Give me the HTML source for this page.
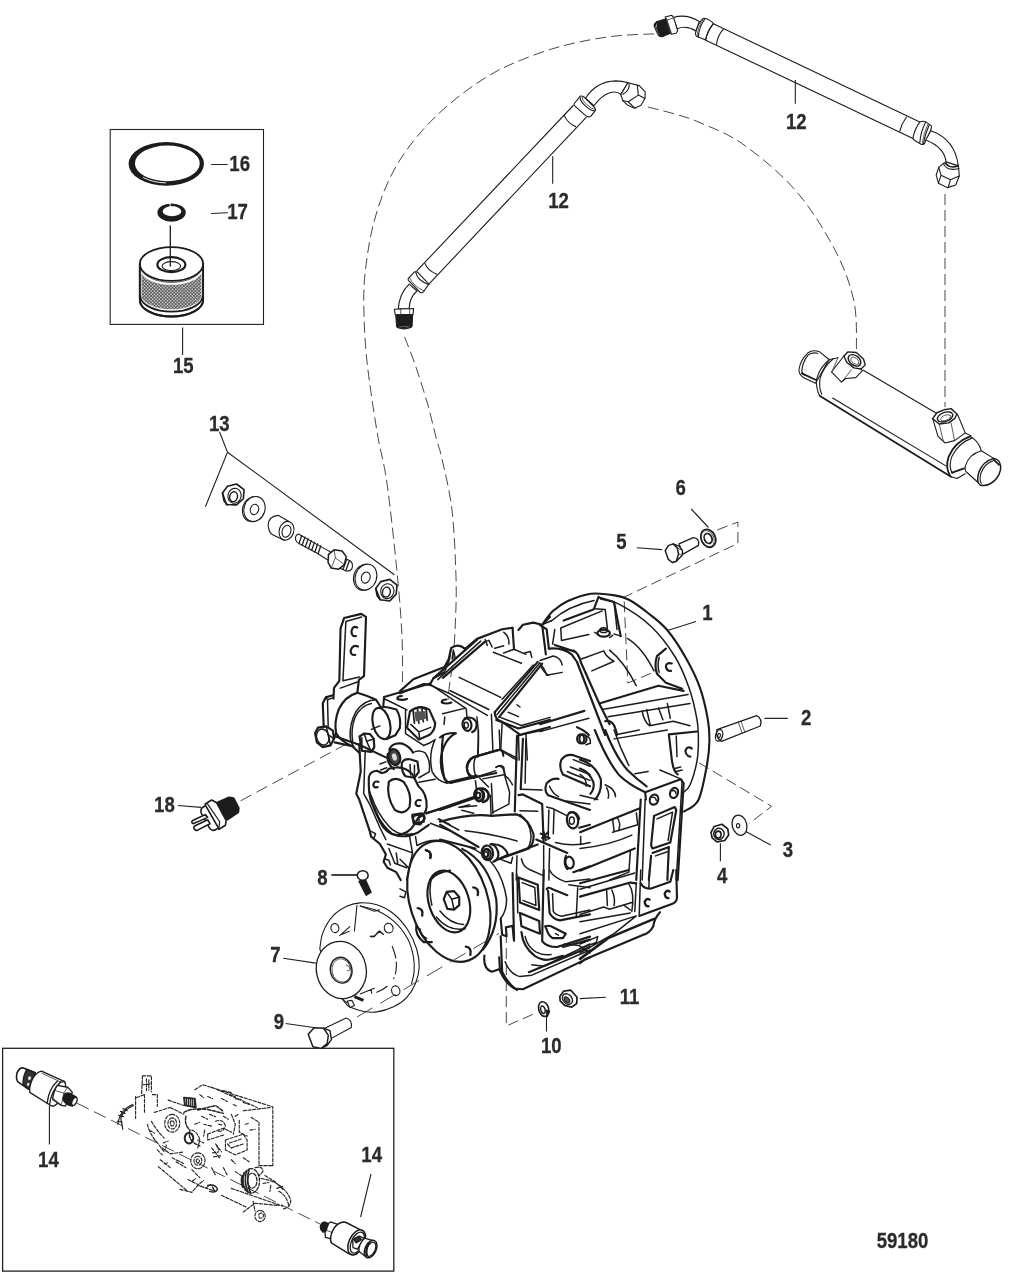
<!DOCTYPE html>
<html>
<head>
<meta charset="utf-8">
<title>59180</title>
<style>
html,body{margin:0;padding:0;background:#fff;}
body{width:1013px;height:1275px;overflow:hidden;}
svg{display:block;}
.l{fill:none;stroke:#1c1c1c;stroke-width:1.1;stroke-linecap:round;stroke-linejoin:round;}
.l *{vector-effect:non-scaling-stroke;}
.t{stroke-width:1.8;}
.h{stroke-width:0.8;stroke:#333;}
.gb{stroke-width:1.5;}
.gb .t{stroke-width:2.15;}
.d{stroke-dasharray:11 5;stroke-width:0.9;stroke:#333;fill:none;}
.w{fill:#fff;}
.k{fill:#1c1c1c;}
.ld{stroke:#222;stroke-width:1.1;fill:none;}
text{font-family:"Liberation Sans",sans-serif;font-weight:bold;font-size:22px;fill:#2b2b2b;stroke:#2b2b2b;stroke-width:0.3px;}
</style>
</head>
<body>
<svg width="1013" height="1275" viewBox="0 0 1013 1275">
<rect width="1013" height="1275" fill="#fff"/>

<!-- ========== dashed assembly lines ========== -->
<g class="d" id="dash">
<path d="M654.1 33.9C648.3 34.2 631.0 34.5 619.5 35.6C608.0 36.8 596.5 38.5 585.0 40.8C573.5 43.1 561.9 45.8 550.4 49.4C538.9 53.0 526.3 57.8 515.9 62.2C505.5 66.6 497.4 70.5 488.2 76.0C479.0 81.5 469.2 88.4 460.6 95.0C452.0 101.6 443.9 108.6 436.4 115.8C428.9 123.0 422.0 130.4 415.7 138.2C409.4 146.0 403.6 153.8 398.4 162.4C393.2 171.0 388.6 180.2 384.6 190.0C380.6 199.8 377.1 210.2 374.2 221.1C371.3 232.0 369.0 243.6 367.3 255.7C365.6 267.8 364.1 278.7 363.8 293.7C363.5 308.7 364.4 329.4 365.5 345.5C366.6 361.6 368.6 374.9 370.7 390.5C372.8 406.1 375.6 423.4 378.3 438.8C381.0 454.2 383.8 460.9 386.9 482.7C390.0 504.5 394.3 544.0 396.8 569.5C399.3 595.0 401.1 616.6 402.0 636.0C402.9 655.4 402.4 677.7 402.5 686.0"/>
<path d="M404.6 336.9C406.5 341.8 411.9 355.1 415.7 366.3C419.5 377.5 424.2 392.2 427.7 404.3C431.1 416.4 434.0 429.7 436.4 438.8C438.8 447.9 439.4 447.1 442.0 459.0C444.6 470.9 449.7 490.3 452.0 510.0C454.3 529.7 455.4 558.7 456.0 577.0C456.6 595.3 456.0 606.2 455.5 620.0C455.0 633.8 454.0 649.2 453.0 660.0C452.0 670.8 450.3 678.3 449.5 685.0C448.7 691.7 448.2 697.5 448.0 700.0"/>
<path d="M647.9 107.1C652.4 108.2 666.1 111.4 674.8 114.0C683.5 116.6 688.7 117.7 700.0 122.7C711.3 127.7 726.9 132.8 742.7 144.0C758.5 155.2 779.7 172.4 795.0 189.8C810.3 207.2 824.5 230.2 834.3 248.7C844.1 267.2 850.2 283.8 853.9 301.0C857.6 318.2 856.1 343.5 856.5 352.0"/>
<path d="M945 194V407"/>
<path d="M717.3 529.9L737.9 522.1V543.4L618 600"/>
<path d="M624.2 601.3L627.8 683L656.2 671.2"/>
<path d="M699 762.8L771.6 806.3L749.4 823.4"/>
<path d="M506.3 932V1026L535.3 1013.3"/>
<path d="M240.7 800.8L350 742" style="stroke-dasharray:12 6"/>
<path d="M77 1103.2L320.6 1224.3" style="stroke-dasharray:13 6"/>
</g>

<!-- ========== boxes ========== -->
<g class="ld">
<rect x="110.2" y="129.5" width="153.3" height="194.9"/>
<rect x="2.6" y="1048.3" width="391.2" height="222.8" stroke-width="1.3"/>
</g>

<!-- ========== leader lines ========== -->
<g class="ld" id="leaders">
<path d="M331.4 875H358" style="stroke-width:1.7"/>
<path d="M211.2 164.5H227.7M211.2 213.5L227.7 212.8M182.6 327.5V355M552.7 156.2V183.8M795.3 80V103.8"/>
<path d="M219.5 431.8L227.5 452.2L205.4 506.7M227.5 452.2L394.4 574.8"/>
<path d="M691.2 509L708.5 527.5M636.7 547.7L662.1 549.6M696 621.6L667.5 630.6M764.4 718.4H787.7M745.8 831.5L770.7 845M720.4 843.2V861.3"/>
<path d="M177.9 805.5L201.1 807.4M283.3 958.3L315.8 963.1M285.7 1023.5L315.3 1027.8M579.7 998.6L605.8 997.3M546.5 1014.2V1031.4M49.4 1105.2V1144.6M371 1174L360.6 1217"/>
</g>


<!-- ========== kit 15: o-ring 16, lock washer 17, filter element ========== -->
<defs>
<pattern id="mesh" width="11" height="11" patternUnits="userSpaceOnUse" patternTransform="rotate(45)">
<rect width="11" height="11" fill="#333"/><rect x="1" y="1" width="7.4" height="7.4" fill="#f2f2f2"/>
</pattern>
</defs>
<g class="l" transform="translate(100,120) scale(0.21176)">
<path class="k" style="stroke:none" fill-rule="evenodd" d="M135 207a178 103 0 1 0 356 0a178 103 0 1 0 -356 0ZM165 205a153 84 0 1 0 306 0a153 84 0 1 0 -306 0Z"/>
<path d="M205 272Q250 296 310 297" style="stroke:#fff;stroke-width:0.9"/>
<path class="k" style="stroke:none" fill-rule="evenodd" d="M271 437a67 43 0 1 0 134 0a67 43 0 1 0 -134 0ZM296 431a44 24 0 1 0 88 0a44 24 0 1 0 -88 0Z"/>
<path d="M330 392L334 425L350 408" style="stroke:#fff;stroke-width:1"/>
<!-- filter body -->
<path class="w t" d="M188 680V850A149.5 78 0 0 0 487 850V680A149.5 80 0 0 0 188 680Z"/>
<path fill="url(#mesh)" stroke="none" d="M196 722A145 72 0 0 0 479 722V838A145 72 0 0 1 196 838Z"/>
<path class="t" d="M188 680A149.5 80 0 0 0 487 680"/>
<path d="M192 700A147 78 0 0 0 483 700" class="h"/>
<path class="t" d="M190 835A148 76 0 0 0 485 835"/>
<path class="t" d="M188 680V850A149.5 78 0 0 0 487 850V680"/>
<ellipse cx="337" cy="683" rx="66" ry="35" class="w t" style="stroke-width:2.2"/>
<ellipse cx="337" cy="690" rx="44" ry="21" class="w"/>
<path d="M332 500V690" style="stroke-width:1.3"/>
</g>


<!-- ========== hose 12 (lower / left) ========== -->
<g class="l">
<path d="M417 270.7L573.2 105.5M428.9 284.1L586.2 117.4"/>
</g>
<g class="l" transform="translate(540,70) scale(0.11846)">
<path d="M205 385Q235 450 300 478"/>
<path class="w" d="M288 285L338 222Q352 214 372 228L462 318Q474 335 462 350L428 392Q405 402 385 385L295 305Q284 295 288 285Z"/>
<path d="M340 235Q338 265 385 305Q425 342 458 345"/>
<path d="M355 228Q352 255 395 293Q432 328 462 332" class="h"/>
<path class="w" d="M385 238C440 150 520 95 640 92C680 93 715 100 742 108L682 208C660 185 625 182 590 192C535 210 490 255 455 302Z"/>
<path class="w" d="M742 108L838 132L888 185L886 240L852 298L800 322L742 298L698 258L682 208Z"/>
<path d="M752 112Q765 165 700 205"/>
<path d="M822 132L830 212L886 240M830 212L745 268L698 258M745 268L800 322"/>
</g>
<g class="l" transform="translate(380,250) scale(0.09872)">
<path d="M455 135Q480 205 575 245"/>
<path class="w" d="M285 290L350 222Q365 213 380 225L495 345L435 430Q420 436 405 428L295 315Q283 302 285 290Z"/>
<path d="M362 225Q378 310 492 350"/>
<path d="M300 280Q335 365 445 415" class="h"/>
<path class="w" d="M295 345Q195 440 185 598L295 592Q298 480 375 415Z"/>
<path class="w" d="M145 600L340 592L335 652L155 657Z"/>
<path d="M210 598V655M300 595V652" class="h"/>
<path class="k" d="M160 662L330 657L325 770L168 772Z"/>
<path class="w" d="M170 772Q245 802 322 770L318 782Q245 815 175 785Z"/>
</g>


<!-- ========== hose 12 (upper / right) ========== -->
<g class="l">
<path d="M713.9 24.1L919.8 121.9M706.3 40.5L913.5 138.8"/>
</g>
<g class="l" transform="translate(645,5) scale(0.08884)">
<path d="M880 275Q820 340 805 440"/>
<path class="w" d="M655 150Q700 145 772 207Q705 290 682 395L580 352Q560 335 575 290Q600 200 655 150Z"/>
<path d="M678 152Q605 250 600 362"/>
<path d="M662 151Q590 250 586 356" class="h"/>
<path d="M772 207Q700 290 682 395"/>
<path class="w" d="M318 140Q460 95 612 185L572 292Q470 225 362 268Z"/>
<path class="w" d="M228 135L300 115L322 142L368 290L350 318L295 330Z"/>
<path d="M248 168L318 148M248 168L228 135M248 168L300 325" class="h"/>
<path class="k" d="M130 190L228 158L280 322L200 355L155 340Z"/>
<path class="w" d="M130 190Q95 215 105 245L150 340Q175 360 200 355Q165 345 158 325L118 235Q112 205 130 190Z"/>
</g>
<g class="l" transform="translate(890,105) scale(0.08884)">
<path d="M185 135Q130 210 110 295"/>
<path class="w" d="M340 188Q375 178 402 190L465 232Q472 250 455 292L390 432Q375 452 350 442L270 395Q254 380 262 350Q290 250 340 188Z"/>
<path d="M402 192Q345 300 335 425"/>
<path d="M442 222Q395 320 375 442"/>
<path d="M428 212Q380 315 362 436" class="h"/>
<path class="w" d="M460 290C600 340 740 440 768 685L632 640C615 520 520 440 402 395Z"/>
<path class="w" d="M548 702L612 648Q680 730 770 675L780 800L740 900L645 930L545 880L520 790Z"/>
<path d="M625 640Q660 720 768 688M600 660Q640 750 775 715"/>
<path d="M548 702L575 790L680 842L778 800M575 790L545 880M680 842L655 928"/>
</g>


<!-- ========== oil cooler ========== -->
<g class="l">
<path d="M863.4 370.2L935.6 412.8"/>
<path d="M819.6 395.7L951 476.7" class="t"/>
<path d="M832.6 398L946.3 466.1"/>
</g>
<g class="l" transform="translate(790,340) scale(0.11846)">
<path class="w" d="M250 100Q190 78 150 110Q85 170 75 255Q80 300 120 320L215 365L330 165Z"/>
<path d="M235 112Q180 100 150 130Q105 190 100 260Q105 290 130 300"/>
<path d="M100 282L220 338" class="t"/>
<path d="M335 165Q250 230 225 330Q215 400 250 470"/>
<path d="M365 158Q280 230 255 320Q240 400 268 458"/>
<path d="M335 165L405 150"/>
<path class="w" d="M455 135L350 270L435 355L470 325L555 318L612 258Z"/>
<path d="M405 150L355 265" class="h"/>
<path d="M435 355L520 250" class="h"/>
<path class="w" d="M455 135L490 100L560 105L620 160L635 210L600 245L540 235L480 190Z" style="stroke-width:1.4"/>
<ellipse cx="545" cy="172" rx="60" ry="40" transform="rotate(38 545 172)" style="stroke-width:1.4"/>
<ellipse cx="548" cy="176" rx="40" ry="24" transform="rotate(38 548 176)" class="h"/>
</g>
<g class="l" transform="translate(893,395) scale(0.11846)">
<path d="M650 350Q520 400 470 520Q440 610 480 680" class="t"/>
<path d="M668 362Q548 410 497 520Q466 600 500 660"/>
<path d="M650 350Q720 380 745 470"/>
<path d="M500 655L600 620" class="t"/><path d="M490 690L540 705L610 665"/>
<path class="w" d="M745 470Q640 500 610 600Q605 640 620 650L725 745L850 535Z"/>
<path class="w" d="M850 535Q760 560 725 650Q700 730 735 760Q800 780 870 710Q930 630 900 570Q885 540 850 535Z" style="stroke-width:1.5"/>
<path d="M842 556Q772 580 742 660Q726 720 746 745"/>
<path d="M850 545L895 590" class="t"/>
<path class="w" d="M335 200L380 350L440 405L520 385L610 320L545 165Z"/>
<path d="M390 245L425 390M490 235L520 385" class="h"/>
<path d="M610 320L660 345" />
<path class="w" d="M335 200L370 150L430 125L490 115L540 160L520 200L470 235L390 245Z" style="stroke-width:1.4"/>
<ellipse cx="440" cy="185" rx="68" ry="38" transform="rotate(-20 440 185)" style="stroke-width:1.4"/>
<ellipse cx="445" cy="192" rx="45" ry="22" transform="rotate(-20 445 192)" class="h"/>
</g>


<!-- ========== bracket hardware 13 ========== -->
<g class="l" transform="translate(190,400) scale(0.22706)">
<path class="w" d="M143 410L165 380L205 370L238 395L235 435L205 462L160 460Z" style="stroke-width:1.6"/>
<path d="M143 410L150 445L165 462" style="stroke-width:1.6"/>
<ellipse cx="196" cy="422" rx="29" ry="33" transform="rotate(15 196 422)"/>
<ellipse cx="192" cy="426" rx="17" ry="22" transform="rotate(15 192 426)" style="stroke-width:1.4"/>
<ellipse cx="278" cy="481" rx="46" ry="56" transform="rotate(18 278 481)" class="w"/>
<ellipse cx="284" cy="480" rx="46" ry="56" transform="rotate(18 284 480)" class="w"/>
<ellipse cx="284" cy="482" rx="18" ry="23" transform="rotate(18 284 482)"/>
<path class="w" d="M388 508Q345 512 344 552Q348 585 362 592L412 617L440 537Z"/>
<ellipse cx="425" cy="576" rx="32" ry="42" transform="rotate(18 425 576)" class="w"/>
<ellipse cx="425" cy="578" rx="19" ry="27" transform="rotate(18 425 578)"/>
<!-- stud -->
<path class="w" d="M478 590Q462 595 465 615Q468 628 480 632L560 675L600 700L625 712L640 680L580 648Z"/>
<path d="M492 597L480 632M506 604L494 640M520 612L508 647M534 619L522 655M548 627L536 662M562 634L550 670M576 642L564 677" style="stroke-width:1.3"/>
<path class="w" d="M665 690L705 708Q722 722 712 745Q702 758 685 752L650 735Z"/>
<path d="M678 696L662 740M690 702L674 746M702 708L686 752" style="stroke-width:1.3"/>
<path class="w" d="M610 680L635 660L670 665L688 690L680 725L655 745L622 740L608 715Z" style="stroke-width:1.5"/>
<path d="M635 660L640 695L622 740M640 695L680 725" class="h"/>
<ellipse cx="768" cy="781" rx="47" ry="58" transform="rotate(18 768 781)" class="w"/>
<ellipse cx="775" cy="780" rx="47" ry="58" transform="rotate(18 775 780)" class="w"/>
<ellipse cx="774" cy="782" rx="19" ry="25" transform="rotate(18 774 782)"/>
<path class="w" d="M818 830L840 800L880 790L912 815L908 855L880 885L838 880Z" style="stroke-width:1.6"/>
<path d="M818 830L824 862L838 880" style="stroke-width:1.6"/>
<ellipse cx="869" cy="842" rx="29" ry="33" transform="rotate(15 869 842)"/>
<ellipse cx="865" cy="846" rx="17" ry="22" transform="rotate(15 865 846)" style="stroke-width:1.4"/>
</g>


<!-- ========== bolt 5 / washer 6 ========== -->
<g class="l" transform="translate(655,515) scale(0.08884)">
<ellipse cx="600" cy="262" rx="80" ry="105" transform="rotate(-25 600 262)" class="w" style="stroke-width:1.7"/>
<ellipse cx="594" cy="266" rx="68" ry="94" transform="rotate(-25 594 266)" class="h"/>
<ellipse cx="598" cy="264" rx="42" ry="58" transform="rotate(-25 598 264)" style="stroke-width:1.7"/>
<path class="w" d="M270 325L430 255Q502 258 490 342L315 440Z" style="stroke-width:1.3"/>
<path class="w" d="M205 325L270 350L310 400L305 455L240 520L195 535Z" style="stroke-width:1.4"/>
<path class="w" d="M115 400L150 345L205 325L250 370L265 440L240 520L195 535L150 500Z" style="stroke-width:1.5"/>
<path d="M250 370L310 400M265 440L305 455" class="h"/>
</g>
<!-- ========== pin 2 / washer 3 / nut 4 ========== -->
<g class="l" transform="translate(680,680) scale(0.18037)">
<path class="w" d="M205 275L425 197Q458 215 445 255L230 340Q195 320 205 275Z" style="stroke-width:1.3"/>
<ellipse cx="217" cy="307" rx="19" ry="33" transform="rotate(15 217 307)" style="stroke-width:1.3"/>
<ellipse cx="217" cy="308" rx="7" ry="12" transform="rotate(15 217 308)"/>
<path d="M323 233L345 296M338 228L360 290" class="h"/>
<ellipse cx="330" cy="805" rx="40" ry="57" transform="rotate(-15 330 805)" class="w" style="stroke-width:1.3"/>
<ellipse cx="322" cy="808" rx="9" ry="12"/>
<path class="w" d="M172 845L190 812L232 800L265 825L270 860L248 890L205 897L178 875Z" style="stroke-width:1.7"/>
<ellipse cx="216" cy="853" rx="29" ry="31" style="stroke-width:1.4"/>
<ellipse cx="212" cy="857" rx="16" ry="19" style="stroke-width:1.6"/>
</g>
<!-- ========== lock washer 10 / nut 11 ========== -->
<g class="l" transform="translate(490,960) scale(0.17768)">
<path class="w" d="M393 205L415 175L455 170L490 210L488 245L460 265L420 255L395 230Z" style="stroke-width:1.7"/>
<ellipse cx="436" cy="220" rx="25" ry="33" transform="rotate(-40 436 220)" style="stroke-width:1.3"/>
<ellipse cx="433" cy="224" rx="12" ry="20" transform="rotate(-40 433 224)" fill="#555"/>
<ellipse cx="302" cy="276" rx="28" ry="42" transform="rotate(-15 302 276)" class="w" style="stroke-width:1.6"/>
<ellipse cx="298" cy="280" rx="12" ry="22" transform="rotate(-15 298 280)" style="stroke-width:1.4"/>
<path d="M316 282L336 288L322 320Z" class="k"/>
</g>
<!-- ========== bolt 8 / bolt 9 ========== -->
<g class="l" transform="translate(140,770) scale(0.23691)">
<path class="k" d="M925 470L950 462L975 515L955 528Z" style="stroke-width:1.6"/>
<ellipse cx="940" cy="445" rx="23" ry="20" class="w" style="stroke-width:1.5"/>
<path class="w" d="M780 1090L870 1047Q897 1055 892 1087L800 1137Z"/>
<path class="w" d="M775 1090L802 1100L808 1138L790 1162L765 1175Z" style="stroke-width:1.4"/>
<path class="w" d="M710 1115L735 1088L775 1090L795 1120L790 1155L765 1175L730 1168Z" style="stroke-width:1.5"/>
</g>
<!-- ========== sender 18 ========== -->
<g class="l" transform="translate(180,785) scale(0.07897)" style="stroke-width:1.6">
<path class="k" d="M470 220L620 155L680 165L745 290L740 345L600 440L560 380Z"/>
<path class="w" d="M300 275Q250 300 270 360L380 555Q410 590 460 560L500 540L340 250Z"/>
<path class="w" d="M320 375L160 450Q135 470 165 490L215 470L350 410Z"/>
<path class="w" d="M350 440L185 520Q160 545 195 570Q215 582 235 565L380 490Z"/>
<path class="w" d="M320 240L400 190L465 225L585 450L575 510L495 560L325 260Z"/>
<path d="M348 238L502 462L492 555" style="stroke-width:1.2"/>
</g>


<!-- ========== coupling hub 7 ========== -->
<g class="l" transform="translate(305,890) scale(0.12833)">
<path class="w" d="M115.0 460.0C119.2 438.3 122.5 373.3 140.0 330.0C157.5 286.7 188.3 234.2 220.0 200.0C251.7 165.8 295.0 141.7 330.0 125.0C365.0 108.3 391.7 101.7 430.0 100.0C468.3 98.3 516.7 100.8 560.0 115.0C603.3 129.2 650.0 152.5 690.0 185.0C730.0 217.5 770.0 264.2 800.0 310.0C830.0 355.8 855.0 411.7 870.0 460.0C885.0 508.3 891.7 555.0 890.0 600.0C888.3 645.0 876.7 690.0 860.0 730.0C843.3 770.0 818.3 810.0 790.0 840.0C761.7 870.0 728.3 891.7 690.0 910.0C651.7 928.3 600.0 944.2 560.0 950.0C520.0 955.8 481.7 950.0 450.0 945.0C418.3 940.0 390.0 927.5 370.0 920.0C350.0 912.5 336.7 903.3 330.0 900.0L290 848Z"/>
<path d="M430.0 125.0C451.7 130.8 515.0 139.2 560.0 160.0C605.0 180.8 660.0 213.3 700.0 250.0C740.0 286.7 775.8 335.0 800.0 380.0C824.2 425.0 836.7 476.7 845.0 520.0C853.3 563.3 852.5 605.0 850.0 640.0C847.5 675.0 833.3 715.0 830.0 730.0"/>
<path d="M405 120L385 320M270 355L350 285M290 345L345 322M430 125L540 165L580 155"/>
<path d="M510 360Q540 372 560 340L580 320L610 345" style="stroke-width:1.5"/>
<path d="M680 440Q715 520 712 600Q708 660 690 690M640 750Q600 785 550 800" style="stroke-dasharray:12 4"/>
<path d="M430 810L540 765M515 775L520 805"/>
<ellipse cx="233" cy="297" rx="31" ry="35" transform="rotate(-15 233 297)"/>
<ellipse cx="652" cy="297" rx="34" ry="38" transform="rotate(-15 652 297)"/>
<ellipse cx="707" cy="785" rx="32" ry="38" transform="rotate(-15 707 785)"/>
<ellipse cx="283" cy="623" rx="194" ry="224" transform="rotate(-12 283 623)" class="w" style="stroke-width:1.3"/>
<ellipse cx="282" cy="625" rx="84" ry="101" transform="rotate(-12 282 625)" style="stroke-width:1.4"/>
<ellipse cx="285" cy="627" rx="74" ry="92" transform="rotate(-12 285 627)" class="h"/>
<path d="M322 585Q350 590 350 615Q345 635 330 630" class="h"/>
<path d="M385 830L455 860" style="stroke-width:3;stroke-linecap:butt"/>
<path class="w" d="M330 865L365 860L385 900L350 915Z"/>
<path d="M290 850L330 880"/>
</g>


<!-- ========== pressure sensors 14 ========== -->
<g class="l" transform="translate(10,1060) scale(0.07897)" style="stroke-width:1.3">
<path class="w" d="M170 100L320 162L240 372L100 278Q70 230 90 160Q120 95 170 100Z" style="stroke-width:1.6"/>
<path d="M215 120L320 162L240 372L165 320Q160 200 215 120Z" fill="#333"/>
<path d="M238 205L268 215L255 255L228 245ZM222 288L248 298L238 330L214 320Z" class="w" style="stroke:none"/>
<path class="w" d="M400 140Q340 150 290 230Q240 330 250 410L490 560L590 560L700 290L685 270Z"/>
<path d="M405 168L640 278" class="h"/>
<path d="M600 270Q495 360 470 545M640 282Q530 380 510 562" />
<path class="w" d="M685 270Q720 300 690 400Q640 540 560 580Q520 590 500 565Q520 400 640 282Z"/>
<path class="w" d="M600 320L730 345L790 410L700 585L650 575L540 500Q550 400 600 320Z"/>
<path d="M565 385L680 420L730 345M680 420L650 575M530 470L650 575" class="h"/>
<path class="k" d="M690 430Q740 400 790 440L840 470L790 585L740 570Q680 540 670 490Z"/>
<ellipse cx="815" cy="525" rx="28" ry="55" transform="rotate(25 815 525)" class="w"/>
</g>
<g class="l" transform="translate(310,1205) scale(0.07897)" style="stroke-width:1.3">
<path class="k" d="M180 215Q140 225 130 280Q130 320 165 345L205 330L235 235Z"/>
<path class="w" d="M235 235L260 215L350 245L270 430L195 410L190 350L205 320Z"/>
<path d="M205 320L285 350" class="h"/>
<path class="w" d="M420 215Q330 230 285 330Q245 420 270 480L490 615Q540 640 590 620L705 385Q690 340 640 315L450 218Z" style="stroke-width:1.5"/>
<ellipse cx="590" cy="472" rx="95" ry="168" transform="rotate(25 590 472)" class="w" style="stroke-width:1.5"/>
<ellipse cx="600" cy="476" rx="76" ry="142" transform="rotate(25 600 476)"/>
<path class="w" d="M540 440L620 395L680 420L640 500L600 560L545 540Z"/>
<path d="M548 432L620 398L650 440L585 480Z" fill="#333"/>
<path class="w" d="M690 420L800 450L720 665L620 590Q610 500 690 420Z"/>
<ellipse cx="768" cy="558" rx="70" ry="118" transform="rotate(25 768 558)" class="w" style="stroke-width:1.5"/>
<ellipse cx="772" cy="560" rx="52" ry="96" transform="rotate(25 772 560)"/>
<path d="M745 480Q700 560 720 640" style="stroke-width:2.2"/>
</g>


<!-- ========== phantom engine (box 14) ========== -->
<g class="l" transform="translate(105,1065) scale(0.19743)" style="stroke-width:1.15;stroke-dasharray:3.2 1.6;stroke:#262626">
<path d="M320 178L400 205M455 125L495 100L850 212V510M540 112L770 215M740 265L780 290V510M700 232L840 215M780 510L850 510"/>
<path d="M190 55H235V135M190 55L185 150M155 160V270M200 150V240M240 150H265V210M210 70V130M222 75V128M160 165L200 150M188 100L232 96"/>
<path d="M145 205Q95 225 80 270L90 325M140 200Q75 225 65 300M70 255L95 262M78 235L102 245M90 220L112 232M62 285L88 290" style="stroke-dasharray:none;stroke-width:1.2"/>
<path d="M215 300Q225 350 270 400L300 440M270 515L420 640M235 285Q260 330 300 370M250 240L330 215M330 215L400 250M225 330L250 345M245 370L262 392"/>
<path d="M340 250A38 45 0 1 0 341 250M340 268A22 28 0 1 0 341 268M340 283A10 13 0 1 0 341 283"/>
<path d="M470 445A36 40 0 1 0 471 445M470 462A20 23 0 1 0 471 462M470 476A8 9 0 1 0 471 476"/>
<path d="M400 165L455 170L460 215L405 205Z" style="stroke-dasharray:none;stroke-width:1.8"/>
<path d="M412 170V205M422 172V208M432 172V208M442 172V210M452 174V212" style="stroke-dasharray:none;stroke-width:1.3"/>
<path d="M400 240Q440 215 520 225L600 245M410 260Q400 300 430 330M430 330Q420 370 450 395L480 410M470 228L560 205L600 235" style="stroke-width:1.5"/>
<path d="M520 350L600 320L640 340M520 350V380L600 355M610 380L700 350L720 380V430L660 455L610 430ZM630 395L690 375M640 420L700 400"/>
<path d="M560 285Q600 270 610 310Q600 340 575 335M640 250L660 300L650 350M680 280V340L720 360M575 300L598 305M600 260L625 275"/>
<path d="M440 330Q470 340 480 380L470 420M540 420L580 470M560 400L590 440M540 520L560 560M440 530L480 570M545 445L575 440M550 465L585 460"/>
<path d="M425 345A22 26 0 1 0 426 345" style="stroke-dasharray:none;stroke-width:2"/>
<path d="M290 420L330 450L400 440M340 470L400 500M360 490L410 520M280 480L330 520M295 395L320 385M310 405L305 435M265 430L290 455M300 500L320 495"/>
<path d="M380 630L440 645L470 610L560 640M590 660L720 722M640 625L900 715M420 580L500 620M440 590L460 575M480 600L500 585M510 625L535 605"/>
<path d="M520 610Q560 600 570 630Q560 650 530 640M545 618L555 640" style="stroke-dasharray:none;stroke-width:1.4"/>
<path d="M740 525A42 62 0 1 0 741 525M745 548A24 38 0 1 0 746 548" style="stroke-width:1.3"/>
<path d="M705 545Q688 590 712 635M718 535Q700 590 725 645M695 560Q685 590 698 620M730 528Q712 590 738 650" style="stroke-dasharray:none;stroke-width:1.6"/>
<path d="M760 520Q800 510 800 540L780 560M790 575Q900 590 940 680Q945 720 900 730M810 560L860 590L900 630M880 640Q920 660 930 710M800 600L830 595M840 610L835 640M870 625L900 615"/>
<path d="M750 690L760 740M785 737A26 28 0 1 0 786 737M700 745L760 700L880 712M790 750A12 13 0 1 0 791 750"/>
<path d="M630 150L660 160M590 170L620 185M650 200L670 210M480 150L500 165M710 300L730 295M500 300L540 310M470 380L500 395M565 405L575 430M620 400L640 420M520 160L545 170M600 130L640 140M660 170L690 175M700 190L730 200M490 260L520 275M530 250L560 262M455 300L480 290M505 330L500 360M660 260L675 250M735 330L760 325M700 470L730 490M640 480L660 500M600 520L620 560M660 540L690 560"/>
</g>


<!-- ========== GEARBOX 1 : shift lever & clamp ========== -->
<g class="l gb" transform="translate(305,605) scale(0.11846)">
<path class="t" d="M330 110L475 75L515 100L498 600L455 632L442 740M330 110L300 200L290 640L245 700L240 790"/>
<path d="M345 140L478 102M345 140L320 640L460 608M298 702L442 650"/>
<path d="M440 190Q400 170 392 225Q395 270 430 262M448 350Q405 330 385 385Q385 430 425 420" class="t"/>
<path class="t" d="M442 740Q520 762 600 800L635 855"/>
<path d="M440 742Q340 770 285 880Q245 985 262 1080Q300 1150 400 1192" class="t"/>
<path d="M600 800Q500 800 430 900Q372 1010 382 1120Q388 1170 412 1192"/>
<path d="M560 832Q470 850 422 950Q385 1050 402 1150"/>
<ellipse cx="645" cy="1000" rx="72" ry="135" transform="rotate(-14 645 1000)" class="t"/>
<path class="t" d="M612 872Q660 855 705 865L772 882Q815 950 800 1040L762 1100L690 1132"/>
<path d="M560 1050L632 1020"/>
<path class="t" d="M150 830L175 780L235 762M150 830L158 1030"/>
<path d="M190 800L196 1030M175 780L190 800L240 782"/>
<path class="t" d="M85 1080L110 1035L180 1025L235 1060L245 1130L215 1185L150 1200L100 1160Z"/>
<ellipse cx="150" cy="1115" rx="52" ry="68" transform="rotate(-15 150 1115)"/>
<path d="M180 1025L195 1095L215 1185M195 1095L245 1130"/>
<path class="t" d="M245 1130L262 1080M250 1160L400 1192L460 1250"/>
<path class="t" d="M460 1110L500 1085L550 1090L580 1130L585 1200L560 1240L480 1230Z"/>
<path d="M500 1085L520 1150L560 1240M520 1150L585 1130M480 1120L480 1230"/>
</g>


<!-- ========== GEARBOX 2 : valve block, switch, dome ========== -->
<g class="l gb" transform="translate(370,680) scale(0.14808)">
<path class="t" d="M90 172L95 115L400 25"/>
<path d="M400 25L645 190M100 128L250 202M490 228L645 190"/>
<path class="t" d="M250 128Q215 140 185 128Q180 110 215 108M550 152Q515 165 485 152Q480 135 515 132"/>
<path class="t" d="M250 322L270 212Q340 160 400 200L440 290Q440 342 400 372L330 402Z"/>
<path d="M275 300L330 350L410 320M330 350L335 398"/>
<path d="M290 200L300 292M320 190L330 292M350 185L360 282M290 200Q330 170 380 200L386 272" style="stroke-width:1.7"/>
<path d="M300 215L375 210L378 262L308 280Z" fill="#555" stroke="none"/>
<path d="M240 202L240 362L362 442M505 250L500 300"/>
<path class="t" d="M130 470Q150 420 220 430Q270 450 290 490M120 500Q110 560 160 602"/>
<ellipse cx="165" cy="520" rx="38" ry="55" transform="rotate(-15 165 520)" fill="#444" class="t"/>
<ellipse cx="165" cy="520" rx="16" ry="25" transform="rotate(-15 165 520)" fill="#ddd" style="stroke:none"/>
<path class="t" d="M215 560Q230 530 270 535L320 550L330 620L300 660L240 650Q210 620 215 560Z"/>
<path d="M270 570L275 642M300 575V642"/>
<path d="M290 490Q330 470 370 490Q410 540 400 620L330 660"/>
<path class="t" d="M580 360Q500 400 480 520Q470 620 520 692L720 645"/>
<path d="M440 402Q392 500 420 620Q450 680 520 697M362 442Q400 430 440 402"/>
<path d="M650 195L655 255M722 250Q742 400 726 520"/>
<ellipse cx="655" cy="302" rx="30" ry="42" transform="rotate(-10 655 302)" class="t"/>
<ellipse cx="650" cy="305" rx="14" ry="20" transform="rotate(-10 650 305)"/>
<path class="t" d="M640 258Q700 240 720 290Q722 340 690 352"/>
<path class="t" d="M700 520Q660 540 655 600Q660 650 700 662M700 520L880 470Q900 480 900 512"/>
<path d="M700 662L850 612M850 590Q880 570 900 600L912 650M740 662L800 722M712 680L722 760"/>
<ellipse cx="735" cy="775" rx="28" ry="40" transform="rotate(-10 735 775)" class="t"/>
<ellipse cx="730" cy="778" rx="13" ry="18"/>
<path class="t" d="M760 732Q800 740 802 790Q792 820 762 826M380 902L700 790"/>
<path d="M820 232L830 480M820 700L830 902M460 940L600 1013M330 690L440 670"/>
<path class="t" d="M285 910L350 900L370 935L340 975L295 970Z"/>
<path d="M600 860L720 850M620 880L700 900"/>
</g>


<!-- ========== GEARBOX 3 : top outline & inspection cover ========== -->
<g class="l gb" transform="translate(400,610) scale(0.14808)">
<path class="t" d="M0 548L90 468L300 385L328 335L345 258Q390 222 440 262L520 195L690 130L760 120"/>
<path class="t" d="M0 562L160 500L200 506L225 462L300 420"/>
<path d="M345 258L335 330L300 420M360 270L352 330M365 285L372 325"/>
<path class="t" d="M760 120L770 265M800 135L830 100L900 85L960 100L985 300M960 100L1013 45"/>
<path d="M700 150Q740 180 735 230M770 265L700 290M640 258L700 242M840 290L880 280L890 320M770 265L850 300"/>
<path class="t" d="M225 462L520 200M290 458L572 215"/>
<path d="M255 470L545 210M572 215L600 205L622 250M575 200L590 240"/>
<path d="M630 285L820 360M400 455L680 590M340 545L600 672M205 508L330 562L590 712"/>
<path class="t" d="M930 350L640 690M960 362L670 722"/>
<path d="M900 372L690 602M945 356L655 705"/>
<path class="t" d="M640 690Q640 740 690 755L810 842L1013 790M650 742L800 800L1013 742"/>
<path d="M670 722L820 780L1013 725M950 380Q970 420 1000 440M790 640L810 655M730 690L800 720"/>
<path d="M690 760L680 950L790 1013M800 842L805 1013M850 835L860 1013"/>
<!-- block-side bits visible in this window -->
</g>
<!-- ========== GEARBOX 4 : bell housing (upper) ========== -->
<g class="l gb" transform="translate(540,585) scale(0.14808)">
<path d="M20 265L80 240M75 245Q190 140 365 105"/>
<path class="t" d="M395 80L365 160M400 85L500 115L545 345"/>
<path d="M365 160L440 165L455 290M545 345L500 330M500 115L520 300"/>
<path class="t" d="M160 240L360 165"/>
<path d="M140 290L420 175M140 290L145 375L330 335"/>
<ellipse cx="430" cy="325" rx="42" ry="24" class="t"/>
<ellipse cx="430" cy="305" rx="26" ry="16"/>
<path d="M370 320L395 335M490 340L470 355"/>
<path d="M590 360Q690 420 770 580M470 440Q570 520 650 680"/>
<path class="t" d="M850 430L790 480Q770 540 790 600L850 660L960 700"/>
<path d="M805 490Q790 540 805 590"/>
<path class="t" d="M890 530Q850 520 850 555Q860 585 885 580"/>
<path d="M280 500L430 445Q450 490 500 515L350 580"/>
<path class="t" d="M60 430Q150 420 215 470L250 520L440 1013M100 405L235 450Q265 470 275 520L400 800L470 940"/>
<path d="M225 440Q255 455 262 490"/>
<path class="t" d="M0 270L45 300L60 430"/>
<path d="M100 300L85 400M0 510L90 480Q140 490 150 540M0 530Q30 560 45 610L150 590"/>
<path class="t" d="M400 800L800 680L970 715M0 940L300 850"/>
<path d="M420 840L1000 740M0 990L330 900M460 890L1013 800"/>
<path d="M690 850Q700 920 740 950M720 840L745 950M800 830L830 910M860 800L880 900M740 950L900 920L1013 950"/>
<path class="t" d="M250 960Q300 980 330 1013M440 920Q500 900 520 1013"/>
<ellipse cx="262" cy="672" rx="22" ry="28" transform="translate(0,0)" style="display:none"/>
</g>


<!-- ========== GEARBOX 5 : pump flange & left housing edge ========== -->
<g class="l gb" transform="translate(300,730) scale(0.14808)">
<path class="t" d="M230 40L400 100L590 190"/>
<path class="t" d="M400 95L410 280L380 430L400 470L470 680L480 720L540 770L580 840L565 890L590 930L650 960L680 1013"/>
<path d="M440 150L430 430L470 500L540 660L580 740M470 680L510 700L500 730M570 870L600 880L610 910"/>
<path class="t" d="M465 320Q470 280 520 275L550 290Q580 290 600 262Q700 230 760 300L800 380Q860 430 855 520Q850 570 800 592L770 640Q740 700 650 710Q580 700 540 620L500 520Q460 470 465 320Z"/>
<path class="t" d="M600 350Q640 310 700 350Q760 430 740 520Q700 580 640 540Q580 450 600 350Z"/>
<path class="t" d="M530 350Q500 340 495 370Q500 395 525 385M815 475Q785 465 780 495Q785 520 810 512"/>
<path d="M480 440Q520 560 600 650Q660 720 760 700"/>
<path class="t" d="M760 590Q790 560 840 580L835 620L775 630ZM855 560L1013 515"/>
<path d="M800 575L805 625M880 630L1013 680M940 600L1013 640"/>
<path class="t" d="M470 420Q500 600 620 700Q700 740 800 690L870 640"/>
<path d="M740 720L760 830L720 1013M780 720L790 780Q900 720 1013 760M590 770L760 830M600 800L640 900L720 930M650 830L660 900"/>
<path class="t" d="M850 810Q892 820 880 866M880 1013Q920 960 1013 950"/>
<path d="M540 230L580 215M545 270L585 255" />
</g>
<!-- ========== GEARBOX 6 : centre column, pipes, frame ========== -->
<g class="l gb" transform="translate(440,730) scale(0.14808)">
<path class="t" d="M520 40L505 550M560 60L545 400"/>
<path d="M580 60L575 360M400 0L405 130L520 190M260 0L255 180M520 40Q600 20 700 0"/>
<path class="t" d="M180 250Q190 190 240 180L390 135M180 250Q185 310 230 320L380 290"/>
<path d="M240 180Q215 250 245 320M380 250Q410 230 430 250L440 310Q470 330 490 370M290 330L440 300"/>
<path class="t" d="M20 40Q0 200 30 330Q60 370 100 350L230 320M0 50Q30 20 100 20"/>
<ellipse cx="265" cy="440" rx="33" ry="42" transform="rotate(-10 265 440)" class="t"/>
<ellipse cx="260" cy="442" rx="15" ry="20"/>
<path class="t" d="M0 540L230 460M260 395Q320 390 330 440Q325 480 290 485"/>
<path d="M340 440L345 580M440 320L470 420L465 500L360 555M140 520L200 505"/>
<path class="t" d="M0 620Q200 560 350 580Q450 570 520 570Q600 600 630 700Q640 760 600 800L400 870"/>
<path d="M540 570Q610 620 615 720Q610 780 590 800M170 680Q350 700 520 750"/>
<path class="t" d="M0 640L260 790M0 740L240 800"/>
<ellipse cx="320" cy="830" rx="38" ry="50" transform="rotate(-10 320 830)" class="t"/>
<ellipse cx="312" cy="833" rx="18" ry="25"/>
<path class="t" d="M350 770Q390 790 395 840Q390 880 360 890"/>
<path d="M400 870L480 900L490 860"/>
<path class="t" d="M820 200Q850 160 900 170L1013 210M820 200Q800 250 830 300L1013 380"/>
<path d="M880 250L1013 300M860 280Q900 300 1013 340M900 200L1013 245"/>
<path class="t" d="M720 360Q760 320 800 330M720 360Q700 410 730 440L1013 540"/>
<path d="M740 380Q760 430 800 450M850 480L1013 500"/>
<path class="t" d="M530 440L560 435L690 500L700 760"/>
<path d="M545 400L690 405M720 520L760 530L860 580M735 540L730 740M770 545L765 700M540 545L660 548"/>
<ellipse cx="895" cy="610" rx="38" ry="55" transform="rotate(-10 895 610)" class="t"/>
<ellipse cx="890" cy="612" rx="17" ry="25"/>
<path class="t" d="M940 660L1013 640M870 560Q920 540 940 600"/>
<path class="t" d="M650 740L860 830"/>
<path d="M700 780L700 1013M740 800L735 1013M520 850L515 1013M550 870Q560 920 600 940L690 980M780 760Q900 790 1013 760M950 720V770"/>
<ellipse cx="875" cy="895" rx="28" ry="40" transform="rotate(-10 875 895)" class="t"/>
<path class="t" d="M900 960L1013 920M850 850Q830 900 860 940"/>
<path d="M680 700L740 730M690 730L730 690M700 690L715 745" class="t"/>
<ellipse cx="950" cy="60" rx="24" ry="30" class="t"/>
</g>


<!-- ========== GEARBOX 7 : diagonal strap, mount bracket, flange (right) ========== -->
<g class="l gb" transform="translate(580,730) scale(0.14808)">
<path class="t" d="M100 0Q180 200 260 300Q330 370 440 420M170 0Q240 180 320 270Q380 330 450 380"/>
<path d="M230 0Q270 120 330 240"/>
<path class="t" d="M440 420L680 332L700 360L660 1013M440 420L445 470"/>
<path class="t" d="M410 470L380 1013"/>
<path d="M440 470L420 1013M690 340L650 1013"/>
<ellipse cx="500" cy="470" rx="28" ry="35" transform="rotate(20 500 470)" class="t"/>
<ellipse cx="635" cy="425" rx="26" ry="35" transform="rotate(20 635 425)" class="t"/>
<path d="M490 455Q510 450 515 475M625 410Q645 405 648 430"/>
<path class="t" d="M500 580L640 520L650 540L610 760L490 800L480 780Z"/>
<path d="M520 600L625 555L595 745"/>
<path class="t" d="M490 830L600 790L590 1013M480 850L465 1013"/>
<path d="M510 850L590 822"/>
<path class="t" d="M600 30L790 10M600 30L620 200Q630 280 660 300"/>
<path d="M650 40L655 180M640 260L680 250M650 280L690 270"/>
<path class="t" d="M755 125Q725 105 712 140Q715 175 745 180"/>
<path d="M230 60L590 0M250 30L400 0M370 295L460 280M540 270L680 330"/>
<path class="t" d="M0 200Q100 230 140 330Q150 420 100 470M0 260Q60 280 90 350Q100 400 70 430"/>
<path d="M0 300Q50 330 40 380M170 370Q240 400 240 450M0 440L120 470M180 390Q200 430 190 460"/>
<path class="t" d="M0 690L400 530M0 950L370 800"/>
<path d="M0 800Q200 780 350 710M220 690L390 640M220 600L230 680M250 590Q280 630 260 680M340 820L330 960L200 1013M380 560L390 640"/>
<ellipse cx="20" cy="60" rx="24" ry="30" class="t"/>
<path d="M45 40Q75 50 70 90L40 100"/>
</g>
<!-- ========== GEARBOX 8 : output flange ========== -->
<g class="l gb" transform="translate(400,840) scale(0.14808)">
<ellipse cx="330" cy="415" rx="262" ry="420" transform="rotate(-18 330 415)" class="t"/>
<path class="t" d="M420 60Q600 150 650 400Q670 600 560 740"/>
<path d="M470 50Q680 130 720 400Q720 480 680 530"/>
<ellipse cx="330" cy="415" rx="135" ry="215" transform="rotate(-18 330 415)" class="t"/>
<path d="M215 250Q190 330 215 440M245 520Q330 620 440 600M270 480Q340 570 430 570"/>
<path class="t" d="M295 400L315 350L365 345L400 385L400 440L365 470L320 465Z"/>
<path d="M350 400L400 385M350 400L365 470M350 400L315 350"/>
<path class="t" d="M175 70Q215 75 205 120M495 320Q535 325 525 372M120 460Q160 465 150 510M445 720Q485 725 475 775" style="stroke-width:2.4"/>
<ellipse cx="585" cy="95" rx="28" ry="35" class="t"/>
<ellipse cx="580" cy="97" rx="13" ry="17"/>
<path class="t" d="M610 30Q700 20 730 100L640 140M640 140L930 30"/>
<path class="t" d="M110 580Q100 640 160 690L215 690"/>
<path d="M135 600Q135 640 180 665M0 130L60 190M0 330L40 350L30 390L0 380"/>
<path class="t" d="M680 530L690 640L720 650L715 590L760 580L770 680"/>
<path class="t" d="M570 780Q560 870 620 890L680 870M680 650L690 890Q720 960 790 1013"/>
</g>
<!-- ========== GEARBOX 9 : rib grid & sump ========== -->
<g class="l gb" transform="translate(440,870) scale(0.14808)">
<path class="t" d="M490 20L500 470M400 590L405 680Q440 760 500 800L560 805L1013 590"/>
<path d="M520 30L525 290M440 620Q470 700 540 720L620 710L1013 540"/>
<path class="t" d="M530 50L660 100L670 270L540 220ZM540 290L670 345L675 430L550 380Z"/>
<path d="M555 85L640 118L648 240L560 205"/>
<path class="t" d="M550 420Q560 520 640 580Q700 620 760 600L830 580"/>
<path d="M575 450Q590 520 650 555Q700 580 750 570"/>
<path class="t" d="M700 0L690 480Q720 520 790 520L1013 450"/>
<path class="t" d="M720 130Q730 110 760 130L860 170M730 140L740 290Q760 330 810 340L1013 300"/>
<path d="M760 160L765 280Q780 305 820 312L1013 270"/>
<path class="t" d="M710 380Q740 370 770 390L850 430L830 460L760 460Q730 440 720 400Z"/>
<path d="M740 0Q760 50 850 80L1013 60M870 100L1013 120M930 120L920 320M780 430L800 440"/>
<path class="t" d="M830 520L1013 470M600 690L1013 520"/>
<path d="M840 500L940 510L1013 560M620 640L700 650L1013 500"/>
</g>
<!-- ========== GEARBOX 10 : bracket foot & sump (right) ========== -->
<g class="l gb" transform="translate(580,870) scale(0.14808)">
<path class="t" d="M650 0L655 190Q650 220 620 230L400 310"/>
<path d="M380 90L370 280M410 0L400 300M470 0L465 120"/>
<path class="t" d="M410 90Q430 130 480 125L610 80L630 0"/>
<path class="t" d="M470 200Q450 185 437 215Q440 245 462 245M605 145Q585 130 572 160Q575 190 597 190" style="stroke-width:2.4"/>
<path class="t" d="M540 285Q500 330 495 380Q470 430 420 440L30 605L0 630"/>
<path d="M500 330L190 460L0 600" style="stroke-width:2.6"/>
<path d="M380 310L230 430L0 560M0 430L380 310M0 500L120 450L110 490L0 530"/>
<path class="t" d="M0 90L330 0M0 180L340 85L380 90"/>
<path d="M0 130L370 20M180 140L185 240M215 135Q240 190 230 240M0 300L160 250L200 265L350 220M0 350L340 290M330 95Q370 150 350 280M300 240L340 270"/>
</g>


<!-- ========== GEARBOX : bell-housing flange arcs (page coords) ========== -->
<g class="l gb">
<path class="t" style="stroke-width:2.1" d="M543.7 622.6C545.2 620.7 549.0 614.5 553.0 611.0C557.0 607.5 561.1 604.2 567.4 601.3C573.7 598.4 583.1 594.7 591.0 593.7C598.9 592.7 608.4 594.4 614.8 595.4C621.2 596.4 623.9 597.1 629.4 600.0C634.9 602.9 641.7 608.0 648.0 613.0C654.3 618.0 660.7 622.3 667.0 629.8C673.3 637.3 680.4 648.3 685.9 658.0C691.4 667.7 696.4 677.6 700.0 687.8C703.6 698.0 706.2 710.3 707.8 719.2C709.4 728.1 709.5 733.6 709.4 741.2C709.3 748.8 708.8 754.9 707.0 764.7C705.2 774.5 702.2 792.2 698.4 800.0C694.6 807.8 686.4 809.6 684.0 811.5"/>
<path d="M600.7 599.1C603.9 600.0 611.5 600.1 620.0 604.7C628.5 609.3 642.2 618.1 651.4 626.7C660.5 635.3 668.6 646.3 674.9 656.5C681.2 666.7 685.3 677.3 689.0 687.8C692.7 698.2 695.3 710.3 696.9 719.2C698.5 728.1 698.4 734.1 698.4 741.2C698.4 748.3 698.3 754.3 696.9 761.6C695.5 768.9 692.2 779.9 690.0 785.0C687.8 790.1 684.8 791.0 683.7 792.2"/>
</g>

<!--PARTS-->
<g class="d"><path d="M357 1017L499 933.5" style="stroke-dasharray:18 9"/></g>

<!-- ========== labels ========== -->
<g id="labels" opacity="0.999">
<text transform="translate(229.3,171.0) scale(0.845,1)">16</text>
<text transform="translate(227.2,219.0) scale(0.845,1)">17</text>
<text transform="translate(173.0,373.0) scale(0.845,1)">15</text>
<text transform="translate(548.2,208.0) scale(0.845,1)">12</text>
<text transform="translate(786.0,129.0) scale(0.845,1)">12</text>
<text transform="translate(209.0,431.0) scale(0.845,1)">13</text>
<text transform="translate(675.4,495.4) scale(0.845,1)">6</text>
<text transform="translate(616.2,549.2) scale(0.845,1)">5</text>
<text transform="translate(702.3,620.4) scale(0.845,1)">1</text>
<text transform="translate(801.0,724.8) scale(0.845,1)">2</text>
<text transform="translate(782.8,856.6) scale(0.845,1)">3</text>
<text transform="translate(717.1,883.0) scale(0.845,1)">4</text>
<text transform="translate(154.1,811.8) scale(0.845,1)">18</text>
<text transform="translate(317.3,885.4) scale(0.845,1)">8</text>
<text transform="translate(270.2,961.6) scale(0.845,1)">7</text>
<text transform="translate(273.7,1028.8) scale(0.845,1)">9</text>
<text transform="translate(619.7,1003.6) scale(0.845,1)">11</text>
<text transform="translate(540.9,1052.6) scale(0.845,1)">10</text>
<text transform="translate(38.1,1167.2) scale(0.845,1)">14</text>
<text transform="translate(361.3,1161.8) scale(0.845,1)">14</text>
<text transform="translate(876.7,1247.6) scale(0.845,1)">59180</text>
</g>
</svg>
</body>
</html>
